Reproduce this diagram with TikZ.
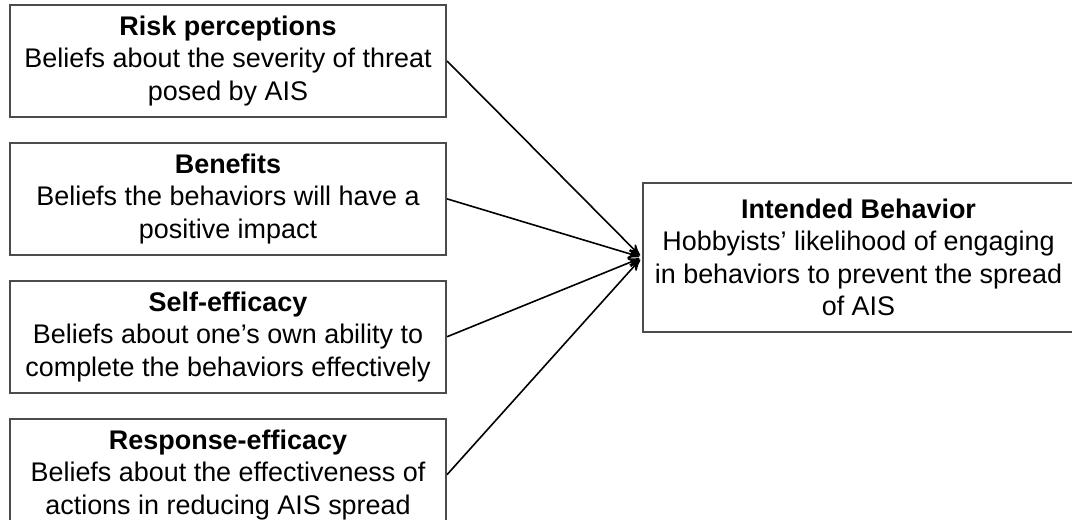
\documentclass[tikz,border=0pt]{standalone}
\usepackage{fontspec}
\setmainfont{Liberation Sans}
\usepackage{tikz}
\usetikzlibrary{positioning}
\usetikzlibrary{arrows}

\begin{document}
\begin{tikzpicture}[x=0.375pt,y=-0.375pt,>=stealth',shorten >=1pt,
	node distance=8.9pt,
	factor node/.style={rectangle,draw=black!70,line width=0.8pt,
		minimum width=163.5pt,minimum height=42pt,inner sep=0pt,
		align=center,font=\fontsize{10.1}{12.2}\selectfont},
	outcome node/.style={factor node,minimum width=161.6pt,
		minimum height=55.9pt}]
	
	\useasboundingbox (0,0) rectangle (1072,519);
	
	\node[factor node] (risk) at (228,61)
		{\textbf{Risk perceptions}\\Beliefs about the severity of threat\\posed by AIS};
	\node[factor node] (benefit) [below=of risk]
		{\textbf{Benefits}\\Beliefs the behaviors will have a\\positive impact};
	\node[factor node] (self) [below=of benefit]
		{\textbf{Self-efficacy}\\Beliefs about one’s own ability to\\complete the behaviors effectively};
	\node[factor node] (response) [below=of self]
		{\textbf{Response-efficacy}\\Beliefs about the effectiveness of\\actions in reducing AIS spread};
	\node[outcome node] (intent) at (858.5,257.5)
		{\textbf{Intended Behavior}\\Hobbyists’ likelihood of engaging\\in behaviors to prevent the spread\\of AIS};
	
	\path[->,line width=0.6pt]
	(risk.east) edge (intent.west)
	(benefit.east) edge (intent.west)
	(self.east) edge (intent.west)
	(response.east) edge (intent.west);
\end{tikzpicture}
\end{document}
